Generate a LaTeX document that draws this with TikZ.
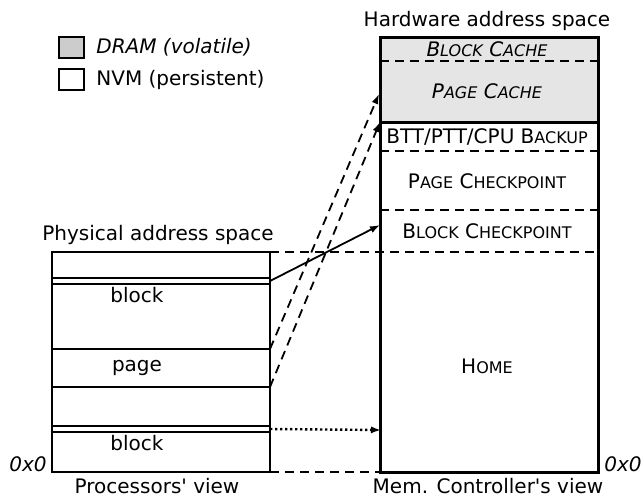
\documentclass[tikz,border=0pt]{standalone}
\usepackage{fontspec}
\setmainfont{DejaVu Sans}
\usetikzlibrary{arrows.meta}
\definecolor{dramgray}{gray}{0.9}
\definecolor{keygray}{gray}{0.8}
% fake small caps: first letter full size, rest smaller
\newcommand{\smc}[2]{#1{\fontsize{8}{9}\selectfont #2}}
\begin{document}
\begin{tikzpicture}[x=0.5pt,y=-0.5pt,
    every node/.style={font=\fontsize{10}{12}\selectfont,inner sep=0pt},
    region/.style={dash pattern=on 4.5pt off 3pt,line width=1pt},
    mapping/.style={-{Latex[length=5pt,width=3.6pt]},line width=0.9pt}]
  \useasboundingbox (0,0) rectangle (641,497);

  % legend
  \node[draw,line width=1pt,fill=keygray,minimum width=12.5pt,minimum height=10.5pt] (keydram) at (71.5,47.5) {};
  \node[draw,line width=1pt,fill=white,minimum width=12.5pt,minimum height=10.5pt] (keynvm) at (71.5,79.5) {};
  \node[anchor=west] (txtdram) at (96,47) {\itshape DRAM (volatile)};
  \node[anchor=west] (txtnvm) at (96,80) {NVM (persistent)};

  % hardware address space
  \fill[dramgray] (380,38) rectangle (598,123);
  \draw[region] (380,61) -- (598,61);
  \draw[region] (380,151) -- (598,151);
  \draw[region] (380,210) -- (598,210);
  \draw[region] (270,252) -- (598,252);
  \draw[region] (270,472) -- (380,472);
  \draw[line width=1.5pt] (380,38) rectangle (598,472);
  \draw[line width=1.5pt] (380,123) -- (598,123);

  \node (blkcache) at (487,49) {\itshape\smc{B}{LOCK} \smc{C}{ACHE}};
  \node (pgcache) at (487,91) {\itshape\smc{P}{AGE} \smc{C}{ACHE}};
  \node (backup) at (487,137) {BTT/PTT/CPU \smc{B}{ACKUP}};
  \node (pgchk) at (487,181) {\smc{P}{AGE} \smc{C}{HECKPOINT}};
  \node (blkchk) at (487,231) {\smc{B}{LOCK} \smc{C}{HECKPOINT}};
  \node (home) at (487,366) {\smc{H}{OME}};

  % physical address space
  \draw[line width=1pt] (52,252) rectangle (270,472);
  \draw[line width=1pt] (52,278) rectangle (270,284);
  \draw[line width=0.8pt] (52,349) -- (270,349) (52,387) -- (270,387);
  \draw[line width=1pt] (52,426) rectangle (270,432);

  \node (blkhi) at (137,295) {block};
  \node (page) at (137,368) {page};
  \node (blklo) at (137,443) {block};

  % titles
  \node (hwtitle) at (487,21) {Hardware address space};
  \node (phtitle) at (158,235) {Physical address space};
  \node (procview) at (157,486) {Processors\textquotesingle{} view};
  \node (mcview) at (488,486) {Mem. Controller\textquotesingle{}s view};
  \node[anchor=base east] (zerol) at (47,471) {\itshape 0x0};
  \node[anchor=base west] (zeror) at (604,471) {\itshape 0x0};

  % mappings
  \coordinate (srcblkhi) at (270,281);
  \coordinate (srcpghi) at (270,349);
  \coordinate (srcpglo) at (270,387);
  \coordinate (srcblklo) at (270,429);
  \coordinate (dstblkchk) at (380,225);
  \coordinate (dstpghi) at (379,94);
  \coordinate (dstpglo) at (380,122);
  \coordinate (dsthome) at (381,430);

  \draw[mapping] (srcblkhi) -- (dstblkchk);
  \draw[mapping,dash pattern=on 4.5pt off 3pt] (srcpghi) -- (dstpghi);
  \draw[mapping,dash pattern=on 4.5pt off 3pt] (srcpglo) -- (dstpglo);
  \draw[mapping,line width=1.2pt,dash pattern=on 1.2pt off 1.3pt] (srcblklo) -- (dsthome);
\end{tikzpicture}
\end{document}
